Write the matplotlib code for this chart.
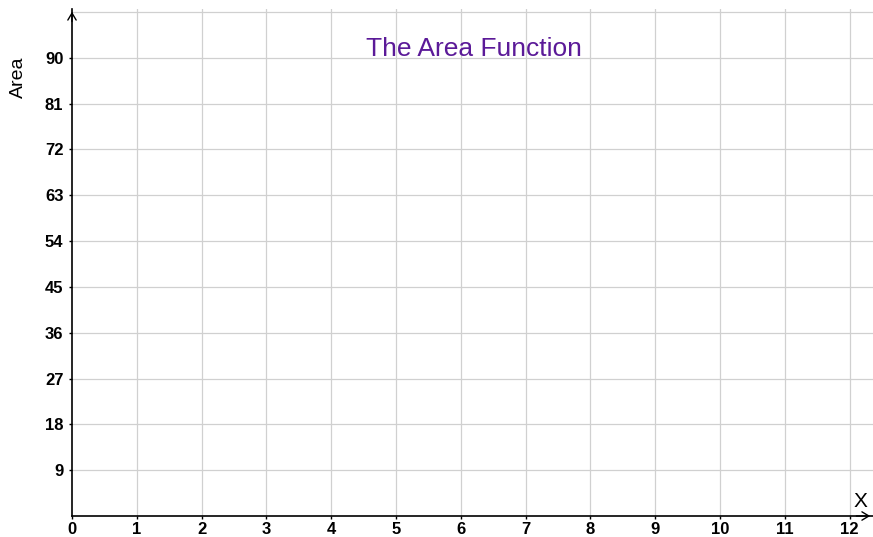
import numpy as np
import matplotlib.pyplot as plt

# axis values
x_ticks = list(range(0, 13))
y_ticks = [9, 18, 27, 36, 45, 54, 63, 72, 81, 90]
y_grid_extra = [99]
x_max = 12.36
y_max = 99.6

plt.rcParams['font.family'] = ['Liberation Sans', 'DejaVu Sans']

fig = plt.figure(figsize=(8.73, 5.37), dpi=100)
ax = fig.add_axes([72 / 873, 21 / 537, (873 - 72) / 873, (516 - 9) / 537])
ax.set_xlim(0, x_max)
ax.set_ylim(0, y_max)

for xv in x_ticks[1:]:
    ax.axvline(xv, color='#d0d0d0', lw=0.9, zorder=0)
for yv in y_ticks + y_grid_extra:
    ax.axhline(yv, color='#d0d0d0', lw=0.9, zorder=0)

ax.set_xticks(x_ticks)
ax.set_yticks(y_ticks)
ax.set_xticklabels([str(v) for v in x_ticks], fontsize=12, fontweight='bold')
ax.set_yticklabels([str(v) for v in y_ticks], fontsize=12, fontweight='bold')
ax.tick_params(axis='x', direction='out', length=2, width=1, pad=2)
ax.tick_params(axis='y', direction='out', length=2.2, width=1, pad=4)

for s in ['top', 'right']:
    ax.spines[s].set_visible(False)
for s in ['left', 'bottom']:
    ax.spines[s].set_linewidth(1.2)

# open arrow heads at axis ends
ax.annotate('', xy=(0, y_max), xytext=(0, y_max - 3),
            arrowprops=dict(arrowstyle='->,head_length=0.5,head_width=0.3',
                            lw=1, color='black'),
            annotation_clip=False)
ax.annotate('', xy=(x_max, 0), xytext=(x_max - 0.3, 0),
            arrowprops=dict(arrowstyle='->,head_length=0.5,head_width=0.3',
                            lw=1, color='black'),
            annotation_clip=False)

fig.text(18 / 873, 1 - 77 / 537, 'Area', rotation=90, fontsize=14,
         ha='center', va='center')
ax.text(12.17, 1.0, 'X', fontsize=15, ha='center', va='bottom')
ax.text(6.2, 91.8, 'The Area Function', fontsize=19, color='#5b1a98',
        ha='center', va='center')

plt.savefig('out.png', dpi=100)
